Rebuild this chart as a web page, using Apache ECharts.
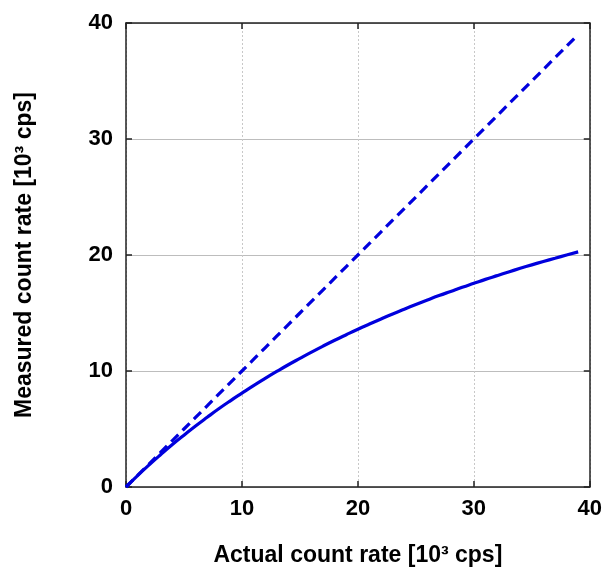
<!DOCTYPE html>
<html><head><meta charset="utf-8">
<script src="https://cdn.jsdelivr.net/npm/echarts@6/dist/echarts.min.js"></script>
<style>html,body{margin:0;padding:0;background:#fff}#c{width:605px;height:572px}</style>
</head><body><div id="c"></div>
<script>
const actualRate = [0,1,2,3,4,5,6,7,8,9,10,11,12,13,14,15,16,17,18,19,20,21,22,23,24,25,26,27,28,29,30,31,32,33,34,35,36,37,38,39];
const measuredRate = [0,0.98,1.91,2.80,3.66,4.47,5.26,6.01,6.74,7.43,8.09,8.74,9.36,9.96,10.54,11.09,11.63,12.15,12.65,13.13,13.60,14.05,14.49,14.92,15.33,15.73,16.12,16.50,16.86,17.22,17.56,17.90,18.22,18.54,18.85,19.15,19.44,19.72,20.00,20.27];
const idealRate = [0,1,2,3,4,5,6,7,8,9,10,11,12,13,14,15,16,17,18,19,20,21,22,23,24,25,26,27,28,29,30,31,32,33,34,35,36,37,38,39];
const xTicks = [0,10,20,30,40];
const yTicks = [0,10,20,30,40];
const xName = 'Actual count rate [10³ cps]';
const yName = 'Measured count rate [10³ cps]';

const chart = echarts.init(document.getElementById('c'), null, {renderer:'canvas'});
const FONT = 'Liberation Sans, Arial, sans-serif';
const labelStyle = {fontFamily: FONT, fontWeight:'bold', fontSize:22, color:'#000'};
const axisBase = {
  type:'value', min:0, max:40, interval:10,
  axisLine:{show:true, onZero:false, lineStyle:{color:'#222', width:1.5}},
  axisTick:{show:true, inside:true, length:6, lineStyle:{color:'#222', width:1.5}},
};
chart.setOption({
  animation:false,
  grid:{left:126, right:13, top:23, bottom:84, containLabel:false},
  xAxis:[
    Object.assign({}, axisBase, {
      position:'bottom',
      axisLabel:{...labelStyle, margin:11},
      splitLine:{show:true, lineStyle:{color:'#c8c8c8', type:[2,2], width:1}},
      name:xName, nameLocation:'middle', nameGap:57,
      nameTextStyle:{fontFamily:FONT, fontWeight:'bold', fontSize:23, color:'#000'}
    }),
    Object.assign({}, axisBase, {
      position:'top', axisLabel:{show:false}, splitLine:{show:false}
    })
  ],
  yAxis:[
    Object.assign({}, axisBase, {
      position:'left',
      axisLabel:{...labelStyle, margin:13},
      splitLine:{show:true, lineStyle:{color:'#bdbdbd', type:'solid', width:1}},
      name:yName, nameLocation:'middle', nameGap:90, nameRotate:90,
      nameTextStyle:{fontFamily:FONT, fontWeight:'bold', fontSize:23, color:'#000'}
    }),
    Object.assign({}, axisBase, {
      position:'right', axisLabel:{show:false}, splitLine:{show:false}
    })
  ],
  series:[
    {type:'line', data: actualRate.map((x,i)=>[x, idealRate[i]]), showSymbol:false,
     lineStyle:{color:'#0000dd', width:3.2, type:[10,6]}, z:3},
    {type:'line', data: actualRate.map((x,i)=>[x, measuredRate[i]]), showSymbol:false, smooth:true,
     lineStyle:{color:'#0000dd', width:3.2}, z:4}
  ]
});
</script></body></html>
